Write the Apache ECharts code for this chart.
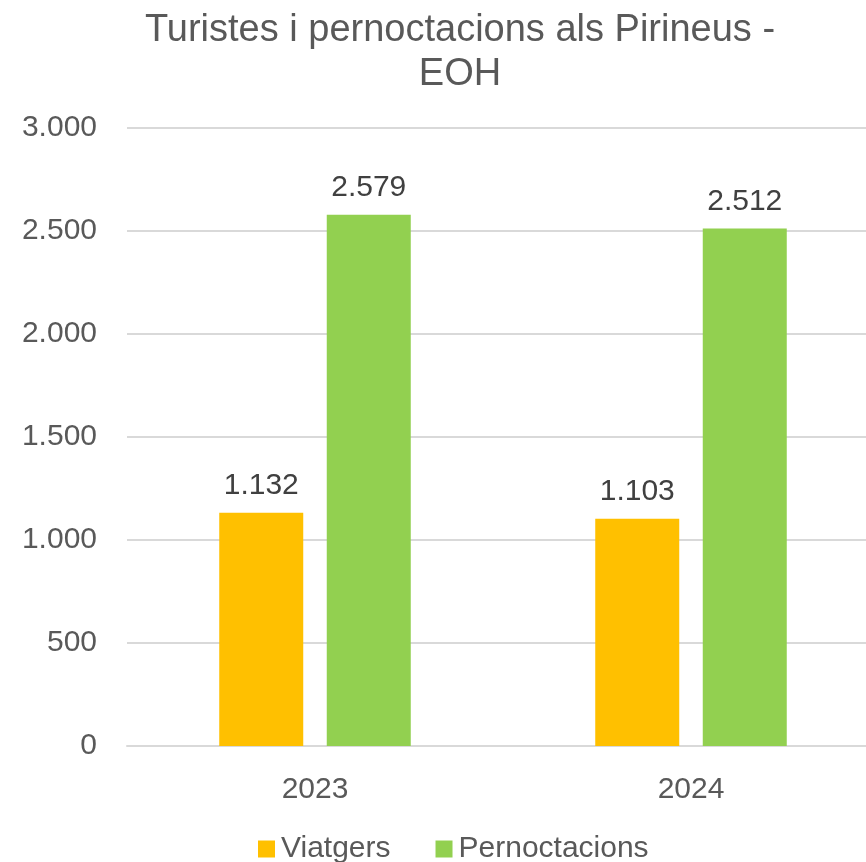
<!DOCTYPE html>
<html>
<head>
  <meta charset="UTF-8" />
  <title>Turistes i pernoctacions als Pirineus - EOH</title>
  <script src="https://cdn.jsdelivr.net/npm/echarts@6/dist/echarts.min.js"></script>
  <style>
    body { margin: 0; background: #fff; overflow: hidden; }
    /* the plot area runs a little past the right edge in the original */
    #main { width: 880px; height: 862px; }
  </style>
</head>
<body>
  <div id="main"></div>
  <script>
    const anys = ['2023', '2024'];
    const viatgers = [1132, 1103];
    const pernoctacions = [2579, 2512];
    const yTicks = [0, 500, 1000, 1500, 2000, 2500, 3000];

    const fmt = v => String(v).replace(/\B(?=(\d{3})+(?!\d))/g, '.');
    const font = '"Liberation Sans", Arial, sans-serif';

    let chart = echarts.init(document.getElementById('main'));
    chart.setOption({
      animation: false,
      textStyle: { fontFamily: font },
      title: {
        text: 'Turistes i pernoctacions als Pirineus -\nEOH',
        left: 455,
        top: 4,
        textAlign: 'center',
        textStyle: { fontSize: 38, fontWeight: 'normal', color: '#595959', lineHeight: 44, fontFamily: font }
      },
      legend: {
        bottom: -7,
        left: 253,
        icon: 'rect',
        itemWidth: 17,
        itemHeight: 17,
        itemGap: 45,
        textStyle: { fontSize: 30, color: '#595959', fontFamily: font, padding: [0, 0, 0, 1] },
        data: ['Viatgers', 'Pernoctacions']
      },
      grid: { left: 127, right: 1, top: 128, bottom: 116 },
      xAxis: {
        type: 'category',
        data: anys,
        axisTick: { show: false },
        axisLine: { lineStyle: { color: '#d9d9d9', width: 2 } },
        axisLabel: { fontSize: 30, color: '#595959', margin: 29 }
      },
      yAxis: {
        type: 'value',
        min: yTicks[0],
        max: yTicks[yTicks.length - 1],
        interval: 500,
        axisLine: { show: false },
        axisTick: { show: false },
        splitLine: { lineStyle: { color: '#d9d9d9', width: 2 } },
        axisLabel: { fontSize: 30, color: '#595959', margin: 30, formatter: fmt }
      },
      series: [
        {
          name: 'Viatgers',
          type: 'bar',
          data: viatgers,
          barWidth: 84,
          barGap: '28%',
          itemStyle: { color: '#FFC000' },
          label: { show: true, position: 'top', distance: 12, fontSize: 30, color: '#404040', formatter: p => fmt(p.value) }
        },
        {
          name: 'Pernoctacions',
          type: 'bar',
          data: pernoctacions,
          barWidth: 84,
          barGap: '28%',
          itemStyle: { color: '#92D050' },
          label: { show: true, position: 'top', distance: 12, fontSize: 30, color: '#404040', formatter: p => fmt(p.value) }
        }
      ]
    });
  </script>
</body>
</html>
